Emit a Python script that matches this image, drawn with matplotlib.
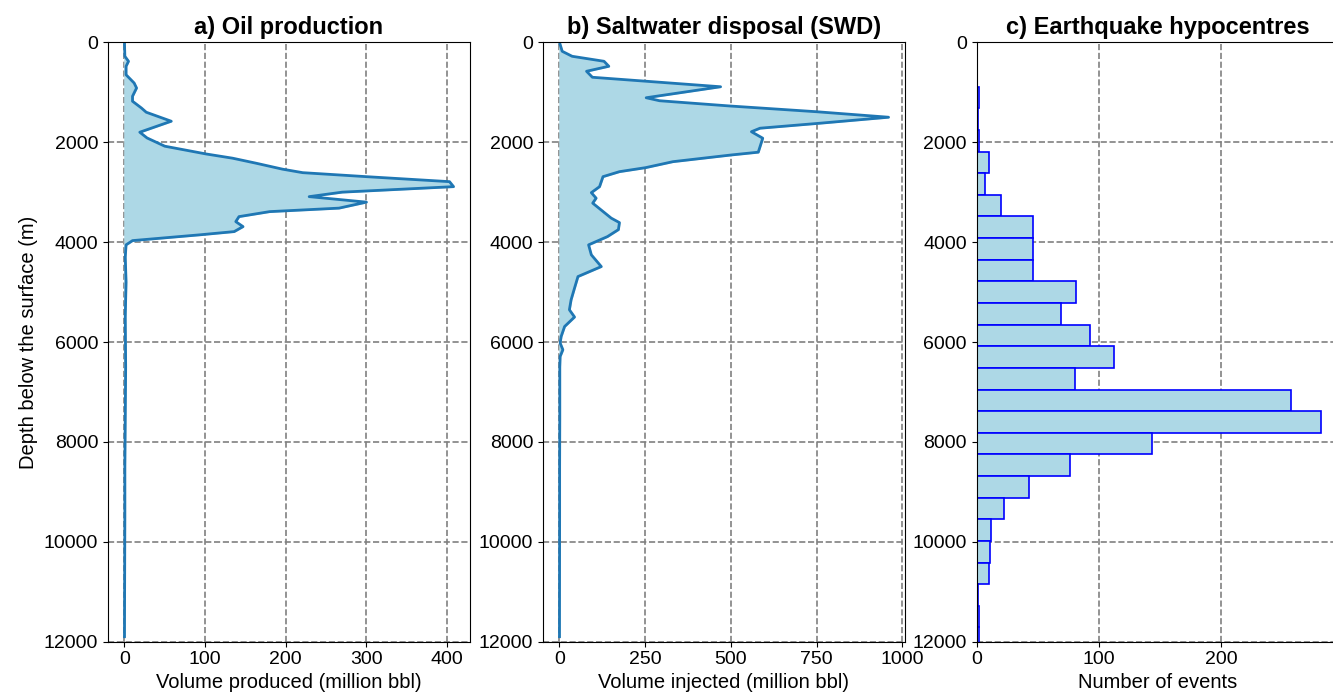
import numpy as np
import matplotlib
matplotlib.use('Agg')
from matplotlib import pyplot as plt

plt.rcParams['font.family'] = ['Liberation Sans', 'DejaVu Sans']
plt.rcParams['font.size'] = 14

# Oil production profile (depth in m, volume in million bbl)
oil_depth = [0, 280, 380, 480, 650, 815, 915, 1080, 1180, 1315, 1400, 1580,
             1800, 1915, 2080, 2235, 2320, 2420, 2540, 2610, 2690, 2790, 2890,
             3000, 3090, 3200, 3320, 3390, 3490, 3590, 3690, 3790, 3855, 3970,
             4055, 4300, 4800, 5500, 6500, 7500, 8500, 9500, 10500, 11900]
oil_volume = [0, 0.5, 5, 2, 2, 12, 15, 10, 10, 21, 27, 58,
              19, 28, 50, 101, 134, 163, 196, 221, 300, 403, 408,
              270, 229, 300, 266, 180, 142, 138, 147, 136, 93, 10,
              2, 1, 2, 1, 1.5, 1, 0.5, 0.5, 0.3, 0]

# Saltwater disposal profile (depth in m, volume in million bbl)
swd_depth = [0, 180, 280, 380, 480, 580, 700, 890, 1110, 1170, 1275, 1390,
             1500, 1620, 1720, 1790, 1920, 2200, 2255, 2390, 2510, 2590, 2690,
             2890, 3010, 3120, 3220, 3520, 3610, 3750, 3890, 4055, 4255, 4490,
             4690, 4920, 5155, 5355, 5500, 5690, 5890, 6020, 6155, 6290, 6500,
             7500, 8500, 9500, 10500, 11900]
swd_volume = [0, 8, 37, 130, 144, 79, 96, 470, 253, 292, 497, 750,
              960, 760, 585, 560, 593, 580, 502, 331, 251, 175, 127,
              117, 93, 107, 97, 151, 175, 172, 140, 85, 93, 122,
              54, 44, 34, 29, 44, 15, 5, 2, 10, 2, 1,
              1, 0.5, 0.5, 0.3, 0]

# Earthquake hypocentre counts per depth bin
eq_bin_start = 889
eq_bin_width = 433
eq_counts = [2, 1, 2, 10, 7, 20, 46, 46, 46, 81, 69, 93, 112, 80, 257, 282,
             143, 76, 43, 22, 12, 11, 10, 1, 2, 2]

depth_ticks = [0, 2000, 4000, 6000, 8000, 10000, 12000]

W, H = 1333, 700
fig = plt.figure(figsize=(W / 100, H / 100), dpi=100)


def add_axes(left_px):
    return fig.add_axes([left_px / W, (H - 641.7) / H, 362 / W, 599.4 / H])


def style_axes(ax, title, xlabel):
    ax.set_ylim(12000, 0)
    ax.set_yticks(depth_ticks)
    ax.set_title(title, fontweight='bold', fontsize=17, pad=6)
    ax.set_xlabel(xlabel, fontsize=14.5, labelpad=3)
    ax.grid(True, linestyle='--', color='gray', linewidth=1.2)
    ax.set_axisbelow(True)


ax1 = add_axes(108)
ax1.fill_betweenx(oil_depth, 0, oil_volume, color='lightblue')
ax1.plot(oil_volume, oil_depth, color='#1f77b4', linewidth=2)
style_axes(ax1, 'a) Oil production', 'Volume produced (million bbl)')
ax1.set_ylabel('Depth below the surface (m)', fontsize=14.5)

ax2 = add_axes(543)
ax2.fill_betweenx(swd_depth, 0, swd_volume, color='lightblue')
ax2.plot(swd_volume, swd_depth, color='#1f77b4', linewidth=2)
style_axes(ax2, 'b) Saltwater disposal (SWD)', 'Volume injected (million bbl)')
ax2.set_xticks([0, 250, 500, 750, 1000])

ax3 = add_axes(976.7)
edges = eq_bin_start + eq_bin_width * np.arange(len(eq_counts) + 1)
centres = (edges[:-1] + edges[1:]) / 2
ax3.hist(centres, bins=edges, weights=eq_counts, orientation='horizontal',
         color='lightblue', edgecolor='blue', linewidth=1.2)
style_axes(ax3, 'c) Earthquake hypocentres', 'Number of events')
ax3.set_xticks([0, 100, 200])

fig.savefig('out.png', dpi=100)
